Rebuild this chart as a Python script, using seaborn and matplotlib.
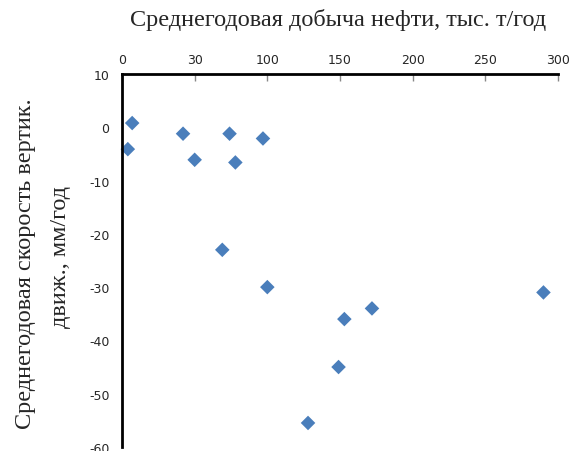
import matplotlib
matplotlib.use("Agg")
import matplotlib.pyplot as plt
import seaborn as sns
import pandas as pd

# average oil production (thousand t/yr) vs average vertical movement rate (mm/yr)
production = [4, 7, 42, 50, 74, 78, 97, 69, 100, 128, 149, 153, 172, 290]
velocity = [-4.1, 0.8, -1.2, -6.1, -1.2, -6.6, -2.1, -23.0, -30.0, -55.5, -45.0, -36.0, -34.0, -31.0]

x_ticks = [0, 50, 100, 150, 200, 250, 300]
x_tick_labels = ["0", "30", "100", "150", "200", "250", "300"]
y_ticks = [-60, -50, -40, -30, -20, -10, 0, 10]

df = pd.DataFrame({"x": production, "y": velocity})

sns.set_style("white")
plt.rcParams["axes.unicode_minus"] = False
fig = plt.figure(figsize=(5.72, 4.52), dpi=100)
ax = fig.add_axes([0.2133, 0.009, 0.7622, 0.825])

sns.scatterplot(data=df, x="x", y="y", marker="D", s=55, color="#4A7EBB",
                edgecolor="none", linewidth=0, ax=ax, clip_on=False)

ax.set_xlim(0, 300)
ax.set_ylim(-60, 10)
ax.set_xticks(x_ticks, labels=x_tick_labels)
ax.set_yticks(y_ticks)

ax.xaxis.tick_top()
ax.tick_params(axis="x", direction="in", length=5, width=1, color="#888888",
               labelsize=9, pad=6, top=True, bottom=False)
ax.tick_params(axis="y", direction="out", length=6, width=1.2, color="#555555",
               labelsize=9, pad=3)
for lab in ax.get_xticklabels() + ax.get_yticklabels():
    lab.set_fontfamily("DejaVu Sans")

for side in ["right", "bottom"]:
    ax.spines[side].set_visible(False)
ax.spines["top"].set_linewidth(2)
ax.spines["left"].set_linewidth(2)
ax.spines["top"].set_color("black")
ax.spines["left"].set_color("black")

ax.set_xlabel("")
ax.set_ylabel("")
fig.text(0.591, 0.956, "Среднегодовая добыча нефти, тыс. т/год",
         ha="center", va="center", fontsize=17.5, family="Liberation Serif")
fig.text(0.044, 0.416, "Среднегодовая скорость вертик.", rotation=90,
         ha="center", va="center", fontsize=17.5, family="Liberation Serif")
fig.text(0.105, 0.431, "движ., мм/год", rotation=90,
         ha="center", va="center", fontsize=17.5, family="Liberation Serif")

fig.savefig("out.png", dpi=100)
